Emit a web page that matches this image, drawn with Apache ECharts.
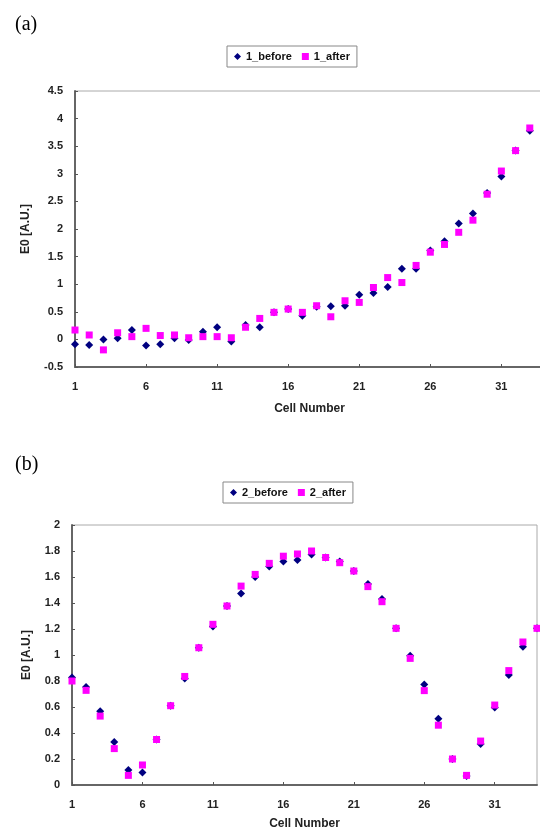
<!DOCTYPE html>
<html>
<head>
<meta charset="utf-8">
<script src="https://cdn.jsdelivr.net/npm/echarts@6/dist/echarts.min.js"></script>
<style>
  html, body { margin: 0; padding: 0; background: #fff; }
  #chart { width: 540px; height: 827px; }
</style>
</head>
<body>
<div id="chart"></div>
<script>
// cell numbers on the x axis (both panels)
const cells = [1, 2, 3, 4, 5, 6, 7, 8, 9, 10, 11, 12, 13, 14, 15, 16, 17,
               18, 19, 20, 21, 22, 23, 24, 25, 26, 27, 28, 29, 30, 31, 32, 33, 34];

// panel (a)
const before1 = [-0.09, -0.10, 0.00, 0.02, 0.17, -0.11, -0.09, 0.02, -0.01, 0.14, 0.22, -0.04,
                 0.26, 0.22, 0.49, 0.55, 0.43, 0.59, 0.60, 0.61, 0.81, 0.84, 0.95, 1.28,
                 1.28, 1.61, 1.78, 2.10, 2.28, 2.65, 2.95, 3.42, 3.78, 3.95];
const after1 = [0.17, 0.08, -0.19, 0.12, 0.05, 0.20, 0.07, 0.08, 0.03, 0.05, 0.05, 0.03,
                0.22, 0.38, 0.49, 0.55, 0.49, 0.61, 0.41, 0.70, 0.67, 0.94, 1.12, 1.03,
                1.34, 1.58, 1.72, 1.94, 2.16, 2.63, 3.05, 3.42, 3.83, 3.98];

// panel (b)
const before2 = [0.826, 0.754, 0.567, 0.33, 0.115, 0.097, 0.35, 0.61, 0.82, 1.056, 1.22, 1.377,
                 1.474, 1.60, 1.68, 1.72, 1.73, 1.774, 1.75, 1.72, 1.646, 1.546, 1.43, 1.205,
                 0.995, 0.774, 0.51, 0.20, 0.07, 0.315, 0.597, 0.846, 1.064, 1.205];
const after2 = [0.80, 0.728, 0.53, 0.28, 0.074, 0.154, 0.35, 0.61, 0.835, 1.056, 1.236, 1.377,
                1.53, 1.62, 1.705, 1.76, 1.777, 1.80, 1.75, 1.71, 1.646, 1.526, 1.41, 1.205,
                0.974, 0.726, 0.46, 0.20, 0.074, 0.338, 0.615, 0.88, 1.10, 1.205];

const NAVY = '#000080';
const PINK = '#ff00ff';
const font = 'Liberation Sans, Arial, sans-serif';

const chart = echarts.init(document.getElementById('chart'));

const xAxisBase = (gridIndex, gap) => ({
    type: 'category',
    gridIndex: gridIndex,
    data: cells,
    boundaryGap: false,
    name: 'Cell Number',
    nameLocation: 'middle',
    nameGap: gap,
    nameTextStyle: { fontFamily: font, fontWeight: 'bold', fontSize: 12, color: '#222' },
    axisLine: { onZero: false, lineStyle: { color: '#666', width: 2 } },
    axisTick: { interval: 4, inside: true, length: 3, lineStyle: { color: '#555' } },
    axisLabel: { interval: 4, margin: 14, fontFamily: font, fontWeight: 'bold', fontSize: 11, color: '#222' },
    splitLine: { show: false }
});

const yAxisBase = (gridIndex, min, max, step, gap) => ({
    type: 'value',
    gridIndex: gridIndex,
    min: min,
    max: max,
    interval: step,
    name: 'E0 [A.U.]',
    nameLocation: 'middle',
    nameGap: gap,
    nameTextStyle: { fontFamily: font, fontWeight: 'bold', fontSize: 12, color: '#222' },
    axisLine: { show: true, onZero: false, lineStyle: { color: '#666', width: 2 } },
    axisTick: { show: true, inside: true, length: 3, lineStyle: { color: '#555' } },
    axisLabel: { margin: 12, fontFamily: font, fontWeight: 'bold', fontSize: 11, color: '#222' },
    splitLine: { show: false }
});

const legendBase = (left, top, names) => ({
    left: left,
    top: top,
    data: names,
    orient: 'horizontal',
    itemWidth: 7,
    itemHeight: 7,
    itemGap: 10,
    padding: [5, 7],
    borderColor: '#888',
    borderWidth: 1,
    textStyle: { fontFamily: font, fontWeight: 'bold', fontSize: 11, color: '#111' }
});

const option = {
    backgroundColor: '#fff',
    animation: false,
    title: [
        { text: '(a)', left: 10, top: 10, textStyle: { fontFamily: 'Liberation Serif, Times New Roman, serif', fontWeight: 'normal', fontSize: 20, color: '#000' } },
        { text: '(b)', left: 10, top: 450, textStyle: { fontFamily: 'Liberation Serif, Times New Roman, serif', fontWeight: 'normal', fontSize: 20, color: '#000' } }
    ],
    legend: [
        legendBase(227, 46, ['1_before', '1_after']),
        legendBase(223, 482, ['2_before', '2_after'])
    ],
    grid: [
        // panel (a) runs slightly past the right edge of the picture
        { left: 75, top: 91, width: 469, bottom: 460, show: true, borderColor: '#aaa', borderWidth: 1,
          outerBoundsMode: 'none' },
        { left: 72, top: 525, right: 3, bottom: 42, show: true, borderColor: '#aaa', borderWidth: 1,
          outerBoundsMode: 'none' }
    ],
    xAxis: [xAxisBase(0, 36), xAxisBase(1, 33)],
    yAxis: [yAxisBase(0, -0.5, 4.5, 0.5, 43), yAxisBase(1, 0, 2, 0.2, 39)],
    series: [
        { name: '1_before', type: 'scatter', xAxisIndex: 0, yAxisIndex: 0, data: before1,
          symbol: 'diamond', symbolSize: 8, itemStyle: { color: NAVY, opacity: 1 } },
        { name: '1_after', type: 'scatter', xAxisIndex: 0, yAxisIndex: 0, data: after1,
          symbol: 'rect', symbolSize: 7, itemStyle: { color: PINK, opacity: 1 } },
        { name: '2_before', type: 'scatter', xAxisIndex: 1, yAxisIndex: 1, data: before2,
          symbol: 'diamond', symbolSize: 8, itemStyle: { color: NAVY, opacity: 1 } },
        { name: '2_after', type: 'scatter', xAxisIndex: 1, yAxisIndex: 1, data: after2,
          symbol: 'rect', symbolSize: 7, itemStyle: { color: PINK, opacity: 1 } }
    ]
};

chart.setOption(option);
</script>
</body>
</html>
